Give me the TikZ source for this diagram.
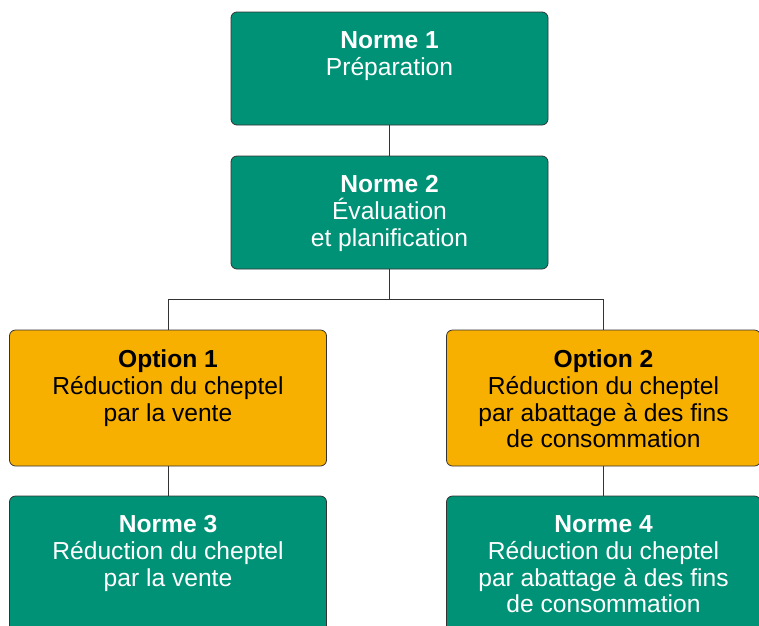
\documentclass[tikz,border=0pt]{standalone}
\usepackage{fontspec}
\setmainfont{Liberation Sans}
\definecolor{boxgreen}{RGB}{0,146,118}
\definecolor{boxorange}{RGB}{248,176,0}
\begin{document}
\begin{tikzpicture}[x=1pt,y=1pt,
  box/.style={draw=black!80, line width=0.8pt, rounded corners=6pt, minimum width=317pt, minimum height=113pt, inner sep=0pt},
  tallbox/.style={box, minimum height=136pt},
  greenbox/.style={fill=boxgreen},
  orangebox/.style={fill=boxorange},
  txt/.style={anchor=north, align=center, inner sep=0pt, yshift=-20pt, font=\fontsize{24.6}{26.7}\selectfont},
  link/.style={draw=black!80, line width=0.8pt}]
\useasboundingbox[fill=white] (0,0) rectangle (759,-625);
% boxes
\node[box, greenbox] (n1) at (389.5,-68.5) {};
\node[box, greenbox] (n2) at (389.5,-212.5) {};
\node[tallbox, orangebox] (o1) at (168,-398) {};
\node[tallbox, orangebox, minimum width=314pt] (o2) at (603.5,-398) {};
\node[tallbox, greenbox] (n3) at (168,-564) {};
\node[tallbox, greenbox, minimum width=314pt] (n4) at (603.5,-564) {};
% texts
\node[txt, text=white] (t1) at (n1.north) {\textbf{Norme 1}\\Préparation};
\node[txt, text=white] (t2) at (n2.north) {\textbf{Norme 2}\\Évaluation\\et planification};
\node[txt, text=black] (t3) at (o1.north) {\textbf{Option 1}\\Réduction du cheptel\\par la vente};
\node[txt, text=black] (t4) at (o2.north) {\textbf{Option 2}\\Réduction du cheptel\\par abattage à des fins\\de consommation};
\node[txt, text=white] (t5) at (n3.north) {\textbf{Norme 3}\\Réduction du cheptel\\par la vente};
\node[txt, text=white] (t6) at (n4.north) {\textbf{Norme 4}\\Réduction du cheptel\\par abattage à des fins\\de consommation};
% connectors
\path (n2.south) ++(0,-30) coordinate (split);
\draw[link] (n1.south) -- (n2.north);
\draw[link] (n2.south) -- (split);
\draw[link] (o1.north) |- (split) -| (o2.north);
\draw[link] (o1.south) -- (n3.north);
\draw[link] (o2.south) -- (n4.north);
\end{tikzpicture}
\end{document}
